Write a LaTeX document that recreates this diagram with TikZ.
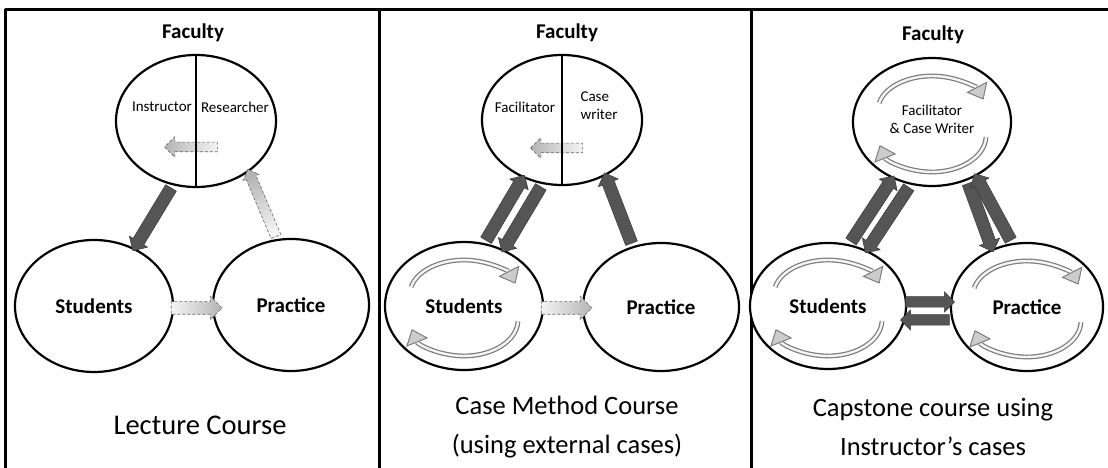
\documentclass[tikz,border=0pt]{standalone}
\usepackage{fontspec}
\setmainfont{Carlito}
\usetikzlibrary{arrows.meta,calc,shapes.geometric,shapes.arrows}
\definecolor{cmDark}{HTML}{555555}
\definecolor{cmEdge}{HTML}{3A3A3A}
\definecolor{cmPale}{HTML}{F4F4F4}
\definecolor{cmShade}{HTML}{B4B4B4}
\definecolor{cmRing}{HTML}{7A7A7A}
\tikzset{
 triad/.style={x=1pt,y=1pt,line join=round},
 panelrule/.style={draw=black,line width=3pt},
 role/.style={ellipse,draw=black,line width=2.2pt,fill=white,inner sep=0pt},
 rolesplit/.style={draw=black,line width=2pt},
 who/.style={font=\fontsize{21}{24}\selectfont\bfseries},
 part/.style={font=\fontsize{15}{18}\selectfont},
 course/.style={font=\fontsize{26.5}{39}\selectfont,align=center},
 darkflow/.style={single arrow,inner xsep=0pt,inner ysep=6pt,draw=cmEdge,line width=.5pt,fill=cmDark,
   single arrow head extend=4.5pt},
 % \n3 is the shading angle set by \blockarrow
 lightflow/.style={single arrow,inner xsep=0pt,inner ysep=6pt,draw=black!60,densely dashed,line width=.6pt,
   left color=cmPale,right color=cmShade,shading angle=\n3,single arrow head extend=5.5pt},
 smallflow/.style={lightflow,inner ysep=4.5pt,single arrow head extend=5.5pt},
 spinarc/.style={draw=cmPale,line width=2.4pt,preaction={draw=cmRing,line width=4.8pt},
   -{Triangle[length=14pt,width=23pt,color=cmRing,fill=black!20,line width=.8pt]}}
}
% block arrow between two named points
\newcommand{\blockarrow}[3][darkflow]{%
 \path let \p1=($(#3)-(#2)$),\n1={atan2(\y1,\x1)},\n2={veclen(\x1,\y1)},\n3={atan2(\y1,\x1)+90} in
  ($(#2)!.5!(#3)$) node[#1,rotate=\n1,minimum height=\n2] {};}
% the two turning arcs inside an ellipse
\newcommand{\spin}[1]{%
 \draw[spinarc] ($(#1)+(0,12)+(168:54 and 34)$) arc[start angle=168,end angle=18,x radius=54,y radius=34];
 \draw[spinarc] ($(#1)+(0,-14)+(-2:54 and 36)$) arc[start angle=-2,end angle=-165,x radius=54,y radius=36];}

\begin{document}
\begin{tikzpicture}[triad]
 \useasboundingbox (0,0) rectangle (1108,468);
 \draw[panelrule] (5.5,0) -- (5.5,458.5) -- (1108,458.5);
 \draw[panelrule] (379,0) -- (379,458.5);
 \draw[panelrule] (751,0) -- (751,458.5);

 % lecture course
 \node[role,minimum width=160,minimum height=132] (F1) at (196,347) {};
 \node[role,minimum width=158,minimum height=132] (S1) at (94,162) {};
 \node[role,minimum width=156,minimum height=132] (P1) at (291,163) {};
 \coordinate (F1a) at ($(F1)+(24,-26)$);
 \coordinate (F1b) at ($(F1)+(-29,-26)$);
 \coordinate (S1x) at ($(S1.east)+(-6,-2)$);
 \coordinate (P1x) at ($(P1.west)+(7,-3)$);
 \blockarrow[smallflow]{F1a}{F1b}
 \draw[rolesplit] (F1.north) -- (F1.south);
 \blockarrow{F1.250}{S1.55}
 \blockarrow[lightflow,inner ysep=5pt,single arrow head extend=3.5pt]{P1.102}{F1.-44}
 \blockarrow[lightflow]{S1x}{P1x}
 \node[who] (fac1) at (193,435) {Faculty};
 \node[part] (ins1) at (162,361) {Instructor};
 \node[part] (res1) at (235,361) {Researcher};
 \node[who] (stu1) at (S1) {Students};
 \node[who] (pra1) at (P1) {Practice};
 \node[course,font=\fontsize{28.5}{39}\selectfont] (t1) at (200,43) {Lecture Course};

 % case method course
 \node[role,minimum width=160,minimum height=130] (F2) at (562,348) {};
 \node[role,minimum width=158,minimum height=128] (S2) at (464,162) {};
 \node[role,minimum width=156,minimum height=128] (P2) at (661,161) {};
 \coordinate (F2a) at ($(F2)+(23,-28)$);
 \coordinate (F2b) at ($(F2)+(-29,-28)$);
 \coordinate (S2x) at ($(S2.east)+(-6,-2)$);
 \coordinate (P2x) at ($(P2.west)+(7,-1)$);
 \blockarrow[smallflow]{F2a}{F2b}
 \draw[rolesplit] (F2.north) -- (F2.south);
 \spin{S2}
 \blockarrow{S2.72}{F2.236}
 \blockarrow{F2.253}{S2.55}
 \blockarrow{P2.115}{F2.-52}
 \blockarrow[lightflow]{S2x}{P2x}
 \node[who] (fac2) at (567,435) {Faculty};
 \node[part] (fcl2) at (525,361) {Facilitator};
 \node[part,align=left,anchor=west] (cwr2) at (577,362) {Case\\writer};
 \node[who] (stu2) at (S2) {Students};
 \node[who] (pra2) at (P2) {Practice};
 \node[course] (t2) at (567,41) {Case Method Course\\(using external cases)};

 % capstone course
 \node[role,minimum width=158,minimum height=128] (F3) at (932,346) {};
 \node[role,minimum width=156,minimum height=126] (S3) at (828,162) {};
 \node[role,minimum width=152,minimum height=128] (P3) at (1027,161) {};
 \coordinate (S3u) at ($(S3.east)+(-4,4)$);
 \coordinate (P3u) at ($(P3.west)+(2,5)$);
 \coordinate (S3d) at ($(S3.east)+(-4,-14)$);
 \coordinate (P3d) at ($(P3.west)+(2,-13)$);
 \spin{F3}
 \spin{S3}
 \spin{P3}
 \blockarrow{S3.71}{F3.235}
 \blockarrow{F3.251}{S3.55}
 \blockarrow{F3.-59}{P3.121}
 \blockarrow{P3.103}{F3.-51}
 \blockarrow[darkflow,inner ysep=5pt,single arrow head extend=5pt]{S3u}{P3u}
 \blockarrow[darkflow,inner ysep=5pt,single arrow head extend=5pt]{P3d}{S3d}
 \node[who] (fac3) at (933,433) {Faculty};
 \node[part,align=center] (fcw3) at (932,349) {Facilitator\\\& Case Writer};
 \node[who] (stu3) at (S3) {Students};
 \node[who] (pra3) at (P3) {Practice};
 \node[course] (t3) at (933,41) {Capstone course using\\Instructor’s cases};
\end{tikzpicture}
\end{document}
